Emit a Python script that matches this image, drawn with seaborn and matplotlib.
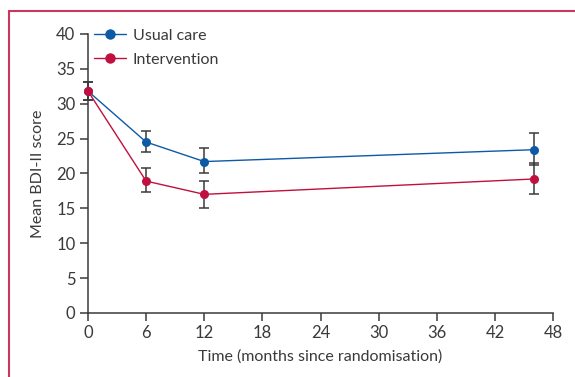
import pandas as pd
import numpy as np
import matplotlib.pyplot as plt
import seaborn as sns
from matplotlib.lines import Line2D

# values
months = [0, 6, 12, 46]
usual_mean = [31.8, 24.5, 21.7, 23.4]
usual_lo = [30.5, 23.0, 20.0, 21.2]
usual_hi = [33.1, 26.1, 23.6, 25.8]
interv_mean = [31.8, 18.9, 17.0, 19.2]
interv_lo = [30.5, 17.3, 15.1, 17.0]
interv_hi = [33.1, 20.8, 18.9, 21.5]
groups = ['Usual care', 'Intervention']
x_ticks = [0, 6, 12, 18, 24, 30, 36, 42, 48]
y_ticks = [0, 5, 10, 15, 20, 25, 30, 35, 40]

blue = '#0f5aa6'
red = '#c0103f'
grey = '#3a3a3a'

df = pd.DataFrame({
    'month': months * 2,
    'score': usual_mean + interv_mean,
    'lo': usual_lo + interv_lo,
    'hi': usual_hi + interv_hi,
    'group': [groups[0]] * len(months) + [groups[1]] * len(months),
})

sns.set_style('ticks')
plt.rcParams['font.family'] = ['Lato', 'DejaVu Sans']

fig = plt.figure(figsize=(5.75, 3.77), dpi=100)
ax = fig.add_axes([0.153, 0.170, 0.809, 0.740])

# error bars first
for _, r in df.iterrows():
    ax.errorbar(r['month'], r['score'],
                yerr=[[r['score'] - r['lo']], [r['hi'] - r['score']]],
                fmt='none', ecolor=grey, elinewidth=1.1, capsize=3.5,
                capthick=1.1, zorder=2, clip_on=False)

sns.lineplot(data=df, x='month', y='score', hue='group',
             palette={groups[0]: blue, groups[1]: red},
             marker='o', markersize=6.5, markeredgewidth=0, linewidth=1.0,
             ax=ax, legend=False, zorder=3, clip_on=False)

ax.set_xlim(0, 48)
ax.set_ylim(0, 40)
ax.set_xticks(x_ticks)
ax.set_yticks(y_ticks)
ax.tick_params(colors=grey, labelsize=12, length=6, width=1.1,
               labelcolor=grey, pad=3)
for s in ['left', 'bottom']:
    ax.spines[s].set_color(grey)
    ax.spines[s].set_linewidth(1.1)
sns.despine(ax=ax)
ax.set_xlabel('Time (months since randomisation)', fontsize=11.5, color=grey, labelpad=6)
ax.set_ylabel('Mean BDI-II score', fontsize=11.5, color=grey, labelpad=8)

handles = [Line2D([], [], color=blue, marker='o', markersize=7.5, markeredgewidth=0, lw=1.0),
           Line2D([], [], color=red, marker='o', markersize=7.5, markeredgewidth=0, lw=1.0)]
leg = ax.legend(handles, groups, loc='upper left', bbox_to_anchor=(0.0, 1.042),
                frameon=False, fontsize=11.5, handlelength=2.0, handletextpad=0.4,
                labelspacing=0.6, borderaxespad=0)
for t in leg.get_texts():
    t.set_color(grey)

# thin frame on top and left of the figure panel
fig.add_artist(Line2D([9 / 575, 9 / 575], [0, 1 - 11 / 377], color='#c8375e', lw=1.5))
fig.add_artist(Line2D([9 / 575, 1], [1 - 11 / 377, 1 - 11 / 377], color='#c8375e', lw=1.5))

fig.savefig('out.png', dpi=100)
